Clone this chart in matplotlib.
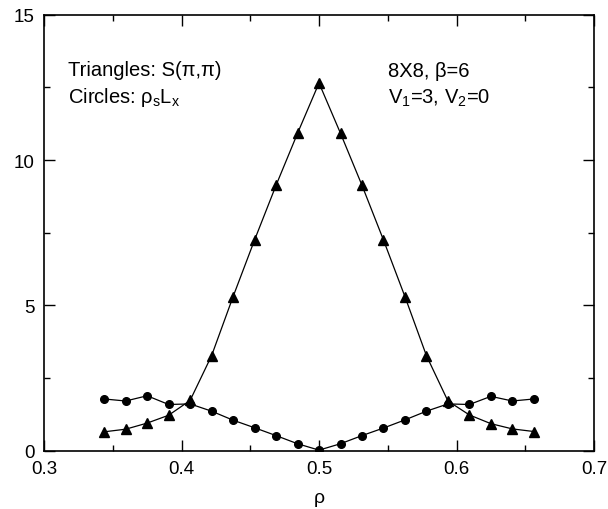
import numpy as np
import matplotlib
matplotlib.use('Agg')
import matplotlib.pyplot as plt
from matplotlib.ticker import MultipleLocator

plt.rcParams['font.family'] = ['Liberation Sans', 'DejaVu Sans']

# Data (8X8 lattice, beta=6, V1=3, V2=0)
rho = [0.34375, 0.359375, 0.375, 0.390625, 0.40625, 0.421875, 0.4375,
       0.453125, 0.46875, 0.484375, 0.5, 0.515625, 0.53125, 0.546875,
       0.5625, 0.578125, 0.59375, 0.609375, 0.625, 0.640625, 0.65625]
s_pipi = [0.65, 0.74, 0.95, 1.22, 1.73, 3.27, 5.30, 7.25, 9.13, 10.92, 12.65,
          10.92, 9.13, 7.25, 5.30, 3.27, 1.71, 1.23, 0.93, 0.75, 0.66]
rhos_lx = [1.78, 1.71, 1.89, 1.59, 1.61, 1.36, 1.05, 0.79, 0.52, 0.24, 0.02,
           0.24, 0.52, 0.78, 1.06, 1.36, 1.61, 1.59, 1.87, 1.71, 1.78]

fig = plt.figure(figsize=(6.08, 5.10), dpi=100)
ax = fig.add_axes([0.0724, 0.1143, 0.9046, 0.8549])

ax.plot(rho, s_pipi, 'k-', marker='^', markersize=7, linewidth=0.9)
ax.plot(rho, rhos_lx, 'k-', marker='o', markersize=5.5, linewidth=0.9)

ax.set_xlim([0.3, 0.7])
ax.set_ylim([0, 15])
ax.xaxis.set_minor_locator(MultipleLocator(0.05))
ax.yaxis.set_minor_locator(MultipleLocator(2.5))
ax.set_xticks([0.3, 0.4, 0.5, 0.6, 0.7])
ax.set_xticklabels(['0.3', '0.4', '0.5', '0.6', '0.7'])
ax.set_yticks([0, 5, 10, 15])
ax.set_yticklabels(['0', '5', '10', '15'])
ax.tick_params(which='both', direction='in', top=True, right=True, labelsize=13.5, width=1)
ax.tick_params(which='major', length=8, pad=7)
ax.tick_params(which='minor', length=4)
for sp in ax.spines.values():
    sp.set_linewidth(1.2)

ax.set_xlabel('\u03c1', fontsize=14, labelpad=8)

ax.text(0.3175, 12.93, 'Triangles: S(\u03c0,\u03c0)', fontsize=14.5)
ax.text(0.3175, 12.0, r'Circles: $\mathregular{\rho_s L_x}$', fontsize=14.5)
ax.text(0.5505, 12.9, '8X8, \u03b2=6', fontsize=14.5)
ax.text(0.5505, 11.98, r'$\mathregular{V_1}$=3, $\mathregular{V_2}$=0', fontsize=14.5)

plt.savefig('out.png', dpi=100)
